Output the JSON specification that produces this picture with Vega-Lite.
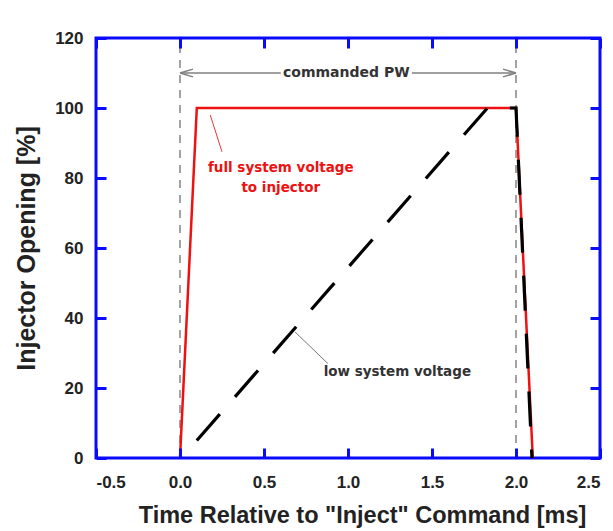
{
  "$schema": "https://vega.github.io/schema/vega-lite/v6.json",
  "autosize": "none",
  "width": 504,
  "height": 420,
  "padding": {"left": 96, "top": 38, "right": 13, "bottom": 73},
  "background": "white",
  "config": {
    "view": {"stroke": "#0a0aff", "strokeWidth": 3},
    "axis": {
      "labelFont": "Liberation Sans",
      "labelFontWeight": "bold",
      "labelFontSize": 17,
      "labelColor": "#222222",
      "titleFont": "Liberation Sans",
      "titleFontWeight": "bold",
      "titleColor": "#222222"
    }
  },
  "datasets": {
    "vlines": [{"x": 0, "y": 0, "y2": 120}, {"x": 2.0, "y": 0, "y2": 120}],
    "full": [
      {"s": "full", "x": 0.0, "y": 0},
      {"s": "full", "x": 0.1, "y": 100},
      {"s": "full", "x": 2.0, "y": 100},
      {"s": "full", "x": 2.1, "y": 0}
    ],
    "low": [
      {"s": "low", "x": 0.1, "y": 5},
      {"s": "low", "x": 1.83, "y": 100},
      {"s": "low", "x": 2.0, "y": 100},
      {"s": "low", "x": 2.095, "y": 0}
    ],
    "arrow": [
      {"seg": "l", "x": 0.0, "y": 110},
      {"seg": "l", "x": 0.6, "y": 110},
      {"seg": "r", "x": 1.38, "y": 110},
      {"seg": "r", "x": 2.0, "y": 110}
    ],
    "heads": [
      {"side": "left", "x": 0.0, "y": 110},
      {"side": "right", "x": 2.0, "y": 110}
    ],
    "leaders": [
      {"who": "full", "x": 0.18, "y": 98, "x2": 0.25, "y2": 87.5},
      {"who": "low", "x": 0.685, "y": 36, "x2": 0.88, "y2": 27}
    ],
    "redtext": [
      {"label": "full system voltage", "x": 0.6, "y": 82.8},
      {"label": "to injector", "x": 0.6, "y": 77.1}
    ],
    "lowtext": [{"label": "low system voltage", "x": 0.855, "y": 24.6}],
    "pwtext": [{"label": "commanded PW", "x": 0.99, "y": 110}]
  },
  "resolve": {"axis": {"x": "independent", "y": "independent"}},
  "layer": [
    {
      "data": {"name": "vlines"},
      "mark": {"type": "rule", "color": "#999999", "strokeWidth": 1.8, "strokeDash": [8, 7]},
      "encoding": {
        "x": {
          "field": "x", "type": "quantitative",
          "scale": {"domain": [-0.5, 2.5], "nice": false, "zero": false},
          "axis": {"orient": "bottom", "grid": false, "domain": false, "ticks": true, "tickSize": -10, "tickColor": "#0a0aff", "tickWidth": 3, "zindex": 2, "values": [-0.5, 0, 0.5, 1, 1.5, 2, 2.5], "labelExpr": "datum.value < 0 ? '-0.5' : format(datum.value, '.1f')", "labelPadding": 26, "title": "Time Relative to \"Inject\" Command [ms]", "titleFontSize": 23.5, "titlePadding": 13, "titleX": 266}
        },
        "y": {
          "field": "y", "type": "quantitative",
          "scale": {"domain": [0, 120], "nice": false},
          "axis": {"orient": "left", "grid": false, "domain": false, "ticks": true, "tickSize": -10, "tickColor": "#0a0aff", "tickWidth": 3, "zindex": 2, "values": [0, 20, 40, 60, 80, 100, 120], "labelPadding": 23, "title": "Injector Opening [%]", "titleFontSize": 25, "titlePadding": 15}
        },
        "y2": {"field": "y2"}
      }
    },
    {
      "data": {"name": "full"},
      "mark": {"type": "line", "color": "#ee1111", "strokeWidth": 2.5},
      "encoding": {
        "x": {"field": "x", "type": "quantitative", "axis": {"orient": "top", "grid": false, "domain": false, "ticks": true, "tickSize": -10, "tickColor": "#0a0aff", "tickWidth": 3, "zindex": 2, "values": [-0.5, 0, 0.5, 1, 1.5, 2, 2.5], "labels": false, "title": null}},
        "y": {"field": "y", "type": "quantitative", "axis": {"orient": "right", "grid": false, "domain": false, "ticks": true, "tickSize": -10, "tickColor": "#0a0aff", "tickWidth": 3, "zindex": 2, "values": [0, 20, 40, 60, 80, 100, 120], "labels": false, "title": null}},
        "detail": {"field": "s"}
      }
    },
    {
      "data": {"name": "low"},
      "mark": {"type": "line", "color": "#000000", "strokeWidth": 3.2, "strokeDash": [35, 23]},
      "encoding": {
        "x": {"field": "x", "type": "quantitative", "axis": null},
        "y": {"field": "y", "type": "quantitative", "axis": null},
        "detail": {"field": "s"}
      }
    },
    {
      "data": {"name": "arrow"},
      "mark": {"type": "line", "color": "#808080", "strokeWidth": 1.5},
      "encoding": {
        "x": {"field": "x", "type": "quantitative", "axis": null},
        "y": {"field": "y", "type": "quantitative", "axis": null},
        "detail": {"field": "seg"}
      }
    },
    {
      "data": {"name": "heads"},
      "mark": {"type": "point", "filled": false, "color": "#808080", "strokeWidth": 1.5, "size": 169, "opacity": 1},
      "encoding": {
        "x": {"field": "x", "type": "quantitative", "axis": null},
        "y": {"field": "y", "type": "quantitative", "axis": null},
        "shape": {
          "field": "side", "type": "nominal", "legend": null,
          "scale": {"domain": ["left", "right"], "range": ["M0,0L2,-0.6M0,0L2,0.6", "M0,0L-2,-0.6M0,0L-2,0.6"]}
        }
      }
    },
    {
      "data": {"name": "leaders"},
      "mark": {"type": "rule", "strokeWidth": 1},
      "encoding": {
        "x": {"field": "x", "type": "quantitative", "axis": null},
        "y": {"field": "y", "type": "quantitative", "axis": null},
        "x2": {"field": "x2"},
        "y2": {"field": "y2"},
        "color": {"field": "who", "type": "nominal", "legend": null, "scale": {"domain": ["full", "low"], "range": ["#ee3333", "#777777"]}}
      }
    },
    {
      "data": {"name": "redtext"},
      "mark": {"type": "text", "color": "#ee1111", "font": "DejaVu Sans", "fontWeight": "bold", "fontSize": 13.5, "align": "center", "baseline": "middle"},
      "encoding": {
        "x": {"field": "x", "type": "quantitative", "axis": null},
        "y": {"field": "y", "type": "quantitative", "axis": null},
        "text": {"field": "label"}
      }
    },
    {
      "data": {"name": "lowtext"},
      "mark": {"type": "text", "color": "#333333", "font": "DejaVu Sans", "fontWeight": "bold", "fontSize": 13.5, "align": "left", "baseline": "middle"},
      "encoding": {
        "x": {"field": "x", "type": "quantitative", "axis": null},
        "y": {"field": "y", "type": "quantitative", "axis": null},
        "text": {"field": "label"}
      }
    },
    {
      "data": {"name": "pwtext"},
      "mark": {"type": "text", "color": "#333333", "font": "DejaVu Sans", "fontWeight": "bold", "fontSize": 14, "align": "center", "baseline": "middle"},
      "encoding": {
        "x": {"field": "x", "type": "quantitative", "axis": null},
        "y": {"field": "y", "type": "quantitative", "axis": null},
        "text": {"field": "label"}
      }
    }
  ]
}
